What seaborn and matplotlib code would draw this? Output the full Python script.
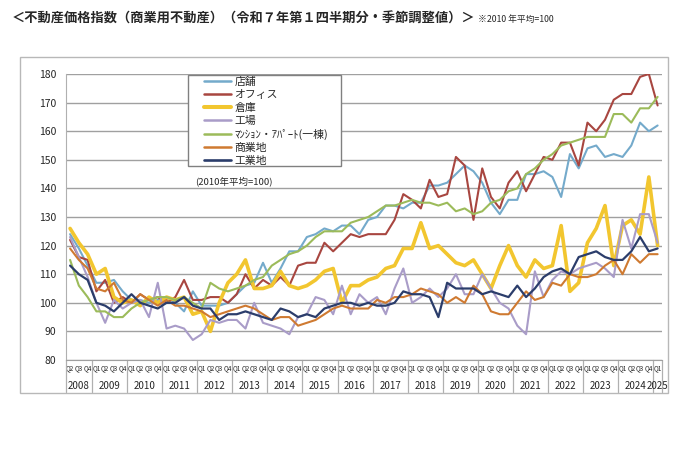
import matplotlib
matplotlib.use("Agg")
import matplotlib.pyplot as plt
import matplotlib.transforms as mtransforms
from matplotlib.patches import Rectangle
from matplotlib.lines import Line2D
import numpy as np
import pandas as pd
import seaborn as sns

# ---------------- data ----------------
years = ["2008", "2009", "2010", "2011", "2012", "2013", "2014", "2015", "2016",
         "2017", "2018", "2019", "2020", "2021", "2022", "2023", "2024", "2025"]
quarters = ["Q2", "Q3", "Q4"] + ["Q1", "Q2", "Q3", "Q4"] * 16 + ["Q1"]
quarter_year = ["2008"] * 3 + [y for y in years[1:-1] for _ in range(4)] + ["2025"]

series_names = ["店舗", "オフィス", "倉庫", "工場", "ﾏﾝｼｮﾝ・ｱﾊﾟｰﾄ(一棟)", "商業地", "工業地"]

store = [124, 119, 113, 107, 107, 108, 104, 101, 101, 100,
         101, 102, 100, 97, 104, 99, 99, 99, 100, 103,
         106, 107, 114, 107, 112, 118, 118, 123, 124, 126,
         125, 127, 127, 124, 129, 130, 134, 134, 133, 135,
         135, 141, 141, 142, 145, 148, 146, 142, 135, 131,
         136, 136, 145, 145, 146, 144, 137, 152, 147, 154,
         155, 151, 152, 151, 155, 163, 160, 162]
office = [122, 116, 115, 104, 108, 100, 102, 100, 103, 101,
          102, 100, 102, 108, 101, 101, 102, 102, 100, 103,
          110, 105, 108, 106, 109, 106, 113, 114, 114, 121,
          118, 121, 124, 123, 124, 124, 124, 129, 138, 136,
          133, 143, 137, 138, 151, 148, 129, 147, 137, 133,
          142, 146, 139, 145, 151, 150, 156, 156, 148, 163,
          160, 164, 171, 173, 173, 179, 180, 169]
warehouse = [126, 121, 117, 110, 112, 102, 100, 101, 99, 102,
             100, 102, 101, 102, 96, 97, 90, 100, 107, 110,
             115, 105, 105, 106, 111, 106, 105, 106, 108, 111,
             112, 100, 106, 106, 108, 109, 112, 113, 119, 119,
             128, 119, 120, 117, 114, 113, 115, 110, 105, 113,
             120, 113, 109, 115, 112, 113, 127, 104, 107, 121,
             126, 134, 113, 127, 129, 124, 144, 120]
factory = [123, 116, 109, 100, 93, 101, 98, 100, 101, 95,
           107, 91, 92, 91, 87, 89, 94, 93, 94, 94,
           91, 100, 93, 92, 91, 89, 95, 96, 102, 101,
           96, 106, 96, 103, 100, 102, 96, 105, 112, 100,
           102, 105, 102, 105, 110, 103, 103, 110, 105, 100,
           98, 92, 89, 111, 102, 108, 111, 110, 112, 113,
           114, 112, 109, 129, 119, 131, 131, 121]
apartment = [115, 106, 102, 97, 97, 95, 95, 98, 100, 101,
             102, 102, 101, 102, 100, 98, 107, 105, 104, 105,
             106, 108, 109, 113, 115, 117, 118, 120, 123, 125,
             125, 125, 128, 129, 130, 132, 134, 134, 135, 136,
             135, 135, 134, 135, 132, 133, 131, 132, 135, 136,
             139, 140, 145, 147, 150, 152, 155, 156, 157, 158,
             158, 158, 166, 166, 163, 168, 168, 172]
commercial_land = [119, 115, 112, 105, 104, 107, 101, 100, 103, 101,
                   99, 101, 99, 99, 98, 97, 95, 96, 97, 98,
                   99, 98, 96, 94, 95, 95, 92, 93, 94, 96,
                   98, 99, 98, 98, 98, 101, 100, 102, 102, 103,
                   105, 104, 103, 100, 102, 100, 106, 103, 97, 96,
                   96, 100, 104, 101, 102, 107, 106, 110, 109, 109,
                   110, 113, 115, 110, 117, 114, 117, 117]
industrial_land = [113, 110, 108, 100, 99, 97, 100, 103, 100, 99,
                   98, 100, 100, 102, 99, 98, 98, 94, 96, 96,
                   97, 96, 95, 94, 98, 97, 95, 96, 95, 98,
                   99, 100, 100, 99, 100, 99, 99, 100, 104, 103,
                   103, 102, 95, 107, 105, 105, 105, 103, 104, 103,
                   102, 106, 102, 105, 109, 111, 112, 110, 116, 117,
                   118, 116, 115, 115, 118, 123, 118, 119]

y_ticks = [80, 90, 100, 110, 120, 130, 140, 150, 160, 170, 180]

colors = ["#74AACB", "#A84640", "#F2C62F", "#A99CC8", "#9CBB5A", "#CF7A31", "#2B3D6B"]
widths = [1.5, 1.5, 2.6, 1.5, 1.5, 1.5, 1.6]

values = [store, office, warehouse, factory, apartment, commercial_land, industrial_land]
n = len(quarters)
df = pd.DataFrame({
    "idx": np.tile(np.arange(n), len(series_names)),
    "value": np.concatenate(values),
    "series": np.repeat(series_names, n),
})

# ---------------- figure ----------------
sns.set_style("white")
plt.rcParams['font.family'] = ['Noto Sans CJK JP', 'DejaVu Sans']

W, H = 692, 449
fig = plt.figure(figsize=(W / 100, H / 100), dpi=100)
ax_l, ax_r, ax_t, ax_b = 65.7, 662, 74, 360
ax = fig.add_axes([ax_l / W, 1 - ax_b / H, (ax_r - ax_l) / W, (ax_b - ax_t) / H])

# outer frame
fig.patches.append(Rectangle((20 / W, 1 - 393 / H), (668 - 20) / W, (393 - 57) / H,
                             transform=fig.transFigure, fill=False,
                             edgecolor="#b8b8b8", lw=1.0, zorder=-1))

for name, c, lw in zip(series_names, colors, widths):
    sub = df[df["series"] == name]
    sns.lineplot(data=sub, x="idx", y="value", color=c, linewidth=lw, ax=ax,
                 legend=False, zorder=3)

ax.set_xlim(-0.5, n - 0.5)
ax.set_ylim(80, 180)
ax.set_yticks(y_ticks)
ax.set_yticklabels([str(v) for v in y_ticks], fontsize=7.5)
ax.yaxis.grid(True, color="#a0a0a0", lw=1.0)
ax.set_axisbelow(True)
ax.set_xlabel("")
ax.set_ylabel("")
for s in ["top", "right"]:
    ax.spines[s].set_visible(False)
ax.spines["left"].set_color("#b0b0b0")
ax.spines["bottom"].set_color("#a0a0a0")
ax.tick_params(axis="y", length=3, color="#909090", pad=4, width=1)

ax.set_xticks(np.arange(n))
ax.set_xticklabels(quarters, fontsize=4.6)
ax.tick_params(axis="x", length=0, pad=3)

# year labels and separators
trans = mtransforms.blended_transform_factory(ax.transData, ax.transAxes)
bounds = [-0.5]
pos = -0.5
for y in years:
    cnt = quarter_year.count(y)
    centre = pos + cnt / 2
    ax.text(centre, -(386 - 360) / (ax_b - ax_t), y, transform=trans,
            ha="center", va="center", fontsize=7)
    pos += cnt
    bounds.append(pos)
for b in bounds:
    ax.plot([b, b], [0, -(392 - 360) / (ax_b - ax_t)], transform=trans,
            clip_on=False, color="#b0b0b0", lw=0.9)

# legend box drawn manually (inside the axes so it sits under the legend)
box = Rectangle((188 / W, 1 - 166 / H), (341 - 188) / W, (166 - 75) / H,
                transform=fig.transFigure, facecolor="white",
                edgecolor="#808080", lw=1.0, zorder=5, clip_on=False)
ax.add_patch(box)
handles = [Line2D([], [], color=c, lw=lw + 0.3) for c, lw in zip(colors, widths)]
leg = ax.legend(handles, series_names, loc="upper left",
                bbox_to_anchor=(204 / W, 1 - 77 / H), bbox_transform=fig.transFigure,
                frameon=False, fontsize=7.8, borderpad=0, borderaxespad=0,
                handlelength=2.5, handletextpad=0.3, labelspacing=0.27)
leg.set_zorder(6)

ax.text(195 / W, 1 - 181 / H, "(2010年平均=100)", fontsize=6.8, va="center", ha="left",
        transform=fig.transFigure, zorder=6)

# titles
fig.text(12 / W, 1 - 19 / H, "＜不動産価格指数（商業用不動産）（令和７年第１四半期分・季節調整値）＞",
         fontsize=9.5, fontweight="bold", va="center", ha="left")
fig.text(478 / W, 1 - 19 / H, "※2010 年平均=100", fontsize=6.3, va="center", ha="left")

fig.savefig("out.png", dpi=100)
